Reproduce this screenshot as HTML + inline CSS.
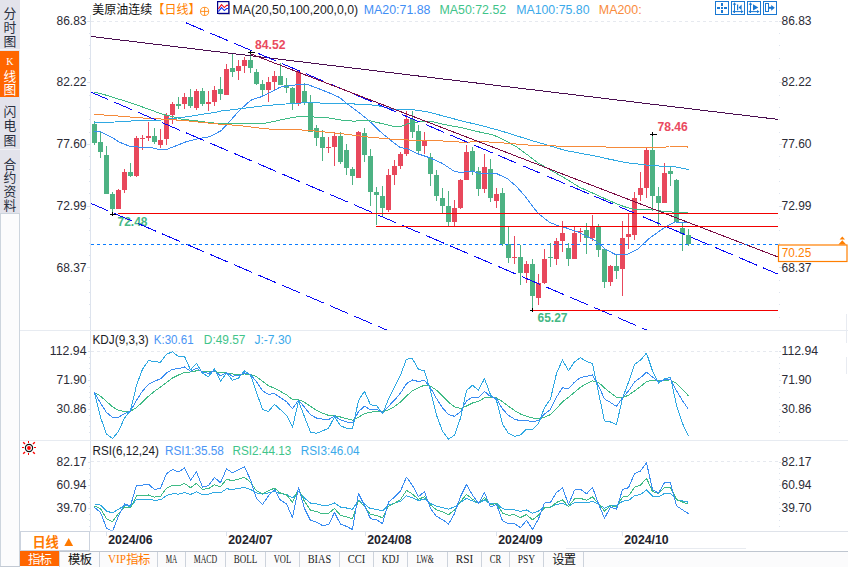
<!DOCTYPE html>
<html><head><meta charset="utf-8"><title>chart</title>
<style>html,body{margin:0;padding:0;background:#fff;overflow:hidden}body{width:848px;height:567px;font-family:"Liberation Sans",sans-serif}</style>
</head><body>
<svg width="848" height="567" viewBox="0 0 848 567" style="display:block"><rect x="0" y="0" width="848" height="567" fill="#ffffff" shape-rendering="crispEdges"/>
<rect x="0" y="0" width="20" height="213" fill="#e3e3eb" shape-rendering="crispEdges"/>
<rect x="0" y="51" width="19" height="46" fill="#ff6600" shape-rendering="crispEdges"/>
<line x1="0" y1="49.5" x2="20" y2="49.5" stroke="#f2f2f6" stroke-width="1" shape-rendering="crispEdges"/>
<line x1="0" y1="149.5" x2="20" y2="149.5" stroke="#f2f2f6" stroke-width="1" shape-rendering="crispEdges"/>
<line x1="19.5" y1="213" x2="19.5" y2="567" stroke="#cdd5de" stroke-width="1" shape-rendering="crispEdges"/>
<line x1="0.5" y1="213" x2="0.5" y2="567" stroke="#cdd5de" stroke-width="1" shape-rendering="crispEdges"/>
<line x1="0" y1="213.5" x2="20" y2="213.5" stroke="#cdd5de" stroke-width="1" shape-rendering="crispEdges"/>
<text x="3.4" y="17.5" font-family="'Liberation Sans','Noto Sans CJK SC',sans-serif" font-size="12.8" fill="#2a3040">分</text>
<text x="3.4" y="31.6" font-family="'Liberation Sans','Noto Sans CJK SC',sans-serif" font-size="12.8" fill="#2a3040">时</text>
<text x="3.4" y="45.7" font-family="'Liberation Sans','Noto Sans CJK SC',sans-serif" font-size="12.8" fill="#2a3040">图</text>
<text x="3.4" y="80.7" font-family="'Liberation Sans','Noto Sans CJK SC',sans-serif" font-size="12.8" fill="#ffffff">线</text>
<text x="3.4" y="94.2" font-family="'Liberation Sans','Noto Sans CJK SC',sans-serif" font-size="12.8" fill="#ffffff">图</text>
<text x="9.8" y="65" font-family="Liberation Serif" font-size="10" fill="#ffffff" text-anchor="middle" font-weight="normal">K</text>
<text x="3.4" y="116.1" font-family="'Liberation Sans','Noto Sans CJK SC',sans-serif" font-size="12.8" fill="#2a3040">闪</text>
<text x="3.4" y="130.4" font-family="'Liberation Sans','Noto Sans CJK SC',sans-serif" font-size="12.8" fill="#2a3040">电</text>
<text x="3.4" y="144.7" font-family="'Liberation Sans','Noto Sans CJK SC',sans-serif" font-size="12.8" fill="#2a3040">图</text>
<text x="3.4" y="168.5" font-family="'Liberation Sans','Noto Sans CJK SC',sans-serif" font-size="12.8" fill="#2a3040">合</text>
<text x="3.4" y="182.35" font-family="'Liberation Sans','Noto Sans CJK SC',sans-serif" font-size="12.8" fill="#2a3040">约</text>
<text x="3.4" y="196.2" font-family="'Liberation Sans','Noto Sans CJK SC',sans-serif" font-size="12.8" fill="#2a3040">资</text>
<text x="3.4" y="210.05" font-family="'Liberation Sans','Noto Sans CJK SC',sans-serif" font-size="12.8" fill="#2a3040">料</text>
<line x1="90.5" y1="15" x2="90.5" y2="531" stroke="#dde3ed" stroke-width="1" shape-rendering="crispEdges"/>
<line x1="20" y1="330.5" x2="848" y2="330.5" stroke="#e7ebf1" stroke-width="1" shape-rendering="crispEdges"/>
<line x1="20" y1="440.5" x2="848" y2="440.5" stroke="#e7ebf1" stroke-width="1" shape-rendering="crispEdges"/>
<line x1="20" y1="531.5" x2="848" y2="531.5" stroke="#dfe3ea" stroke-width="1" shape-rendering="crispEdges"/>
<line x1="566" y1="548.5" x2="746" y2="548.5" stroke="#e8ebf0" stroke-width="1" shape-rendering="crispEdges"/>
<line x1="846.5" y1="314" x2="846.5" y2="343" stroke="#e8ebf1" stroke-width="1" shape-rendering="crispEdges"/>
<line x1="846.5" y1="357" x2="846.5" y2="374" stroke="#e8ebf1" stroke-width="1" shape-rendering="crispEdges"/>
<line x1="91" y1="21.5" x2="778" y2="21.5" stroke="#e6e9ef" stroke-width="1" stroke-dasharray="3 3" shape-rendering="crispEdges"/>
<line x1="91" y1="351.5" x2="778" y2="351.5" stroke="#e6e9ef" stroke-width="1" stroke-dasharray="3 3" shape-rendering="crispEdges"/>
<line x1="91" y1="461.5" x2="778" y2="461.5" stroke="#e6e9ef" stroke-width="1" stroke-dasharray="3 3" shape-rendering="crispEdges"/>
<line x1="87" y1="21.5" x2="90" y2="21.5" stroke="#dde3ed" stroke-width="1" shape-rendering="crispEdges"/>
<line x1="779" y1="21.5" x2="782" y2="21.5" stroke="#dde3ed" stroke-width="1" shape-rendering="crispEdges"/>
<line x1="89" y1="33.5" x2="90" y2="33.5" stroke="#dde3ed" stroke-width="1" shape-rendering="crispEdges"/>
<line x1="779" y1="33.5" x2="780" y2="33.5" stroke="#dde3ed" stroke-width="1" shape-rendering="crispEdges"/>
<line x1="89" y1="45.5" x2="90" y2="45.5" stroke="#dde3ed" stroke-width="1" shape-rendering="crispEdges"/>
<line x1="779" y1="45.5" x2="780" y2="45.5" stroke="#dde3ed" stroke-width="1" shape-rendering="crispEdges"/>
<line x1="89" y1="58.5" x2="90" y2="58.5" stroke="#dde3ed" stroke-width="1" shape-rendering="crispEdges"/>
<line x1="779" y1="58.5" x2="780" y2="58.5" stroke="#dde3ed" stroke-width="1" shape-rendering="crispEdges"/>
<line x1="89" y1="70.5" x2="90" y2="70.5" stroke="#dde3ed" stroke-width="1" shape-rendering="crispEdges"/>
<line x1="779" y1="70.5" x2="780" y2="70.5" stroke="#dde3ed" stroke-width="1" shape-rendering="crispEdges"/>
<line x1="87" y1="82.5" x2="90" y2="82.5" stroke="#dde3ed" stroke-width="1" shape-rendering="crispEdges"/>
<line x1="779" y1="82.5" x2="782" y2="82.5" stroke="#dde3ed" stroke-width="1" shape-rendering="crispEdges"/>
<line x1="89" y1="95.5" x2="90" y2="95.5" stroke="#dde3ed" stroke-width="1" shape-rendering="crispEdges"/>
<line x1="779" y1="95.5" x2="780" y2="95.5" stroke="#dde3ed" stroke-width="1" shape-rendering="crispEdges"/>
<line x1="89" y1="107.5" x2="90" y2="107.5" stroke="#dde3ed" stroke-width="1" shape-rendering="crispEdges"/>
<line x1="779" y1="107.5" x2="780" y2="107.5" stroke="#dde3ed" stroke-width="1" shape-rendering="crispEdges"/>
<line x1="89" y1="119.5" x2="90" y2="119.5" stroke="#dde3ed" stroke-width="1" shape-rendering="crispEdges"/>
<line x1="779" y1="119.5" x2="780" y2="119.5" stroke="#dde3ed" stroke-width="1" shape-rendering="crispEdges"/>
<line x1="89" y1="132.5" x2="90" y2="132.5" stroke="#dde3ed" stroke-width="1" shape-rendering="crispEdges"/>
<line x1="779" y1="132.5" x2="780" y2="132.5" stroke="#dde3ed" stroke-width="1" shape-rendering="crispEdges"/>
<line x1="87" y1="144.5" x2="90" y2="144.5" stroke="#dde3ed" stroke-width="1" shape-rendering="crispEdges"/>
<line x1="779" y1="144.5" x2="782" y2="144.5" stroke="#dde3ed" stroke-width="1" shape-rendering="crispEdges"/>
<line x1="89" y1="156.5" x2="90" y2="156.5" stroke="#dde3ed" stroke-width="1" shape-rendering="crispEdges"/>
<line x1="779" y1="156.5" x2="780" y2="156.5" stroke="#dde3ed" stroke-width="1" shape-rendering="crispEdges"/>
<line x1="89" y1="169.5" x2="90" y2="169.5" stroke="#dde3ed" stroke-width="1" shape-rendering="crispEdges"/>
<line x1="779" y1="169.5" x2="780" y2="169.5" stroke="#dde3ed" stroke-width="1" shape-rendering="crispEdges"/>
<line x1="89" y1="181.5" x2="90" y2="181.5" stroke="#dde3ed" stroke-width="1" shape-rendering="crispEdges"/>
<line x1="779" y1="181.5" x2="780" y2="181.5" stroke="#dde3ed" stroke-width="1" shape-rendering="crispEdges"/>
<line x1="89" y1="193.5" x2="90" y2="193.5" stroke="#dde3ed" stroke-width="1" shape-rendering="crispEdges"/>
<line x1="779" y1="193.5" x2="780" y2="193.5" stroke="#dde3ed" stroke-width="1" shape-rendering="crispEdges"/>
<line x1="87" y1="206.5" x2="90" y2="206.5" stroke="#dde3ed" stroke-width="1" shape-rendering="crispEdges"/>
<line x1="779" y1="206.5" x2="782" y2="206.5" stroke="#dde3ed" stroke-width="1" shape-rendering="crispEdges"/>
<line x1="89" y1="218.5" x2="90" y2="218.5" stroke="#dde3ed" stroke-width="1" shape-rendering="crispEdges"/>
<line x1="779" y1="218.5" x2="780" y2="218.5" stroke="#dde3ed" stroke-width="1" shape-rendering="crispEdges"/>
<line x1="89" y1="230.5" x2="90" y2="230.5" stroke="#dde3ed" stroke-width="1" shape-rendering="crispEdges"/>
<line x1="779" y1="230.5" x2="780" y2="230.5" stroke="#dde3ed" stroke-width="1" shape-rendering="crispEdges"/>
<line x1="89" y1="243.5" x2="90" y2="243.5" stroke="#dde3ed" stroke-width="1" shape-rendering="crispEdges"/>
<line x1="779" y1="243.5" x2="780" y2="243.5" stroke="#dde3ed" stroke-width="1" shape-rendering="crispEdges"/>
<line x1="89" y1="255.5" x2="90" y2="255.5" stroke="#dde3ed" stroke-width="1" shape-rendering="crispEdges"/>
<line x1="779" y1="255.5" x2="780" y2="255.5" stroke="#dde3ed" stroke-width="1" shape-rendering="crispEdges"/>
<line x1="87" y1="267.5" x2="90" y2="267.5" stroke="#dde3ed" stroke-width="1" shape-rendering="crispEdges"/>
<line x1="779" y1="267.5" x2="782" y2="267.5" stroke="#dde3ed" stroke-width="1" shape-rendering="crispEdges"/>
<line x1="89" y1="280.5" x2="90" y2="280.5" stroke="#dde3ed" stroke-width="1" shape-rendering="crispEdges"/>
<line x1="779" y1="280.5" x2="780" y2="280.5" stroke="#dde3ed" stroke-width="1" shape-rendering="crispEdges"/>
<line x1="89" y1="292.5" x2="90" y2="292.5" stroke="#dde3ed" stroke-width="1" shape-rendering="crispEdges"/>
<line x1="779" y1="292.5" x2="780" y2="292.5" stroke="#dde3ed" stroke-width="1" shape-rendering="crispEdges"/>
<line x1="89" y1="304.5" x2="90" y2="304.5" stroke="#dde3ed" stroke-width="1" shape-rendering="crispEdges"/>
<line x1="779" y1="304.5" x2="780" y2="304.5" stroke="#dde3ed" stroke-width="1" shape-rendering="crispEdges"/>
<line x1="89" y1="317.5" x2="90" y2="317.5" stroke="#dde3ed" stroke-width="1" shape-rendering="crispEdges"/>
<line x1="779" y1="317.5" x2="780" y2="317.5" stroke="#dde3ed" stroke-width="1" shape-rendering="crispEdges"/>
<text x="86.5" y="24.9" font-family="Liberation Sans" font-size="12" fill="#2b2b36" text-anchor="end" font-weight="normal" textLength="30" lengthAdjust="spacingAndGlyphs">86.83</text>
<text x="781.5" y="24.9" font-family="Liberation Sans" font-size="12" fill="#2b2b36" text-anchor="start" font-weight="normal" textLength="30" lengthAdjust="spacingAndGlyphs">86.83</text>
<text x="86.5" y="85.8" font-family="Liberation Sans" font-size="12" fill="#2b2b36" text-anchor="end" font-weight="normal" textLength="30" lengthAdjust="spacingAndGlyphs">82.22</text>
<text x="781.5" y="85.8" font-family="Liberation Sans" font-size="12" fill="#2b2b36" text-anchor="start" font-weight="normal" textLength="30" lengthAdjust="spacingAndGlyphs">82.22</text>
<text x="86.5" y="148.0" font-family="Liberation Sans" font-size="12" fill="#2b2b36" text-anchor="end" font-weight="normal" textLength="30" lengthAdjust="spacingAndGlyphs">77.60</text>
<text x="781.5" y="148.0" font-family="Liberation Sans" font-size="12" fill="#2b2b36" text-anchor="start" font-weight="normal" textLength="30" lengthAdjust="spacingAndGlyphs">77.60</text>
<text x="86.5" y="209.8" font-family="Liberation Sans" font-size="12" fill="#2b2b36" text-anchor="end" font-weight="normal" textLength="30" lengthAdjust="spacingAndGlyphs">72.99</text>
<text x="781.5" y="209.8" font-family="Liberation Sans" font-size="12" fill="#2b2b36" text-anchor="start" font-weight="normal" textLength="30" lengthAdjust="spacingAndGlyphs">72.99</text>
<text x="86.5" y="272.0" font-family="Liberation Sans" font-size="12" fill="#2b2b36" text-anchor="end" font-weight="normal" textLength="30" lengthAdjust="spacingAndGlyphs">68.37</text>
<text x="781.5" y="272.0" font-family="Liberation Sans" font-size="12" fill="#2b2b36" text-anchor="start" font-weight="normal" textLength="30" lengthAdjust="spacingAndGlyphs">68.37</text>
<text x="86.5" y="355.2" font-family="Liberation Sans" font-size="12" fill="#2b2b36" text-anchor="end" font-weight="normal" textLength="36.7" lengthAdjust="spacingAndGlyphs">112.94</text>
<text x="781.5" y="355.2" font-family="Liberation Sans" font-size="12" fill="#2b2b36" text-anchor="start" font-weight="normal" textLength="36.7" lengthAdjust="spacingAndGlyphs">112.94</text>
<line x1="779" y1="351.5" x2="781" y2="351.5" stroke="#dde3ed" stroke-width="1" shape-rendering="crispEdges"/>
<line x1="88" y1="351.5" x2="90" y2="351.5" stroke="#dde3ed" stroke-width="1" shape-rendering="crispEdges"/>
<text x="86.5" y="384.09999999999997" font-family="Liberation Sans" font-size="12" fill="#2b2b36" text-anchor="end" font-weight="normal" textLength="30" lengthAdjust="spacingAndGlyphs">71.90</text>
<text x="781.5" y="384.09999999999997" font-family="Liberation Sans" font-size="12" fill="#2b2b36" text-anchor="start" font-weight="normal" textLength="30" lengthAdjust="spacingAndGlyphs">71.90</text>
<line x1="779" y1="380.5" x2="781" y2="380.5" stroke="#dde3ed" stroke-width="1" shape-rendering="crispEdges"/>
<line x1="88" y1="380.5" x2="90" y2="380.5" stroke="#dde3ed" stroke-width="1" shape-rendering="crispEdges"/>
<text x="86.5" y="413.2" font-family="Liberation Sans" font-size="12" fill="#2b2b36" text-anchor="end" font-weight="normal" textLength="30" lengthAdjust="spacingAndGlyphs">30.86</text>
<text x="781.5" y="413.2" font-family="Liberation Sans" font-size="12" fill="#2b2b36" text-anchor="start" font-weight="normal" textLength="30" lengthAdjust="spacingAndGlyphs">30.86</text>
<line x1="779" y1="409.5" x2="781" y2="409.5" stroke="#dde3ed" stroke-width="1" shape-rendering="crispEdges"/>
<line x1="88" y1="409.5" x2="90" y2="409.5" stroke="#dde3ed" stroke-width="1" shape-rendering="crispEdges"/>
<text x="86.5" y="465.95" font-family="Liberation Sans" font-size="12" fill="#2b2b36" text-anchor="end" font-weight="normal" textLength="30" lengthAdjust="spacingAndGlyphs">82.17</text>
<text x="781.5" y="465.95" font-family="Liberation Sans" font-size="12" fill="#2b2b36" text-anchor="start" font-weight="normal" textLength="30" lengthAdjust="spacingAndGlyphs">82.17</text>
<line x1="779" y1="462.5" x2="781" y2="462.5" stroke="#dde3ed" stroke-width="1" shape-rendering="crispEdges"/>
<line x1="88" y1="462.5" x2="90" y2="462.5" stroke="#dde3ed" stroke-width="1" shape-rendering="crispEdges"/>
<text x="86.5" y="488.95" font-family="Liberation Sans" font-size="12" fill="#2b2b36" text-anchor="end" font-weight="normal" textLength="30" lengthAdjust="spacingAndGlyphs">60.94</text>
<text x="781.5" y="488.95" font-family="Liberation Sans" font-size="12" fill="#2b2b36" text-anchor="start" font-weight="normal" textLength="30" lengthAdjust="spacingAndGlyphs">60.94</text>
<line x1="779" y1="485.5" x2="781" y2="485.5" stroke="#dde3ed" stroke-width="1" shape-rendering="crispEdges"/>
<line x1="88" y1="485.5" x2="90" y2="485.5" stroke="#dde3ed" stroke-width="1" shape-rendering="crispEdges"/>
<text x="86.5" y="512.2" font-family="Liberation Sans" font-size="12" fill="#2b2b36" text-anchor="end" font-weight="normal" textLength="30" lengthAdjust="spacingAndGlyphs">39.70</text>
<text x="781.5" y="512.2" font-family="Liberation Sans" font-size="12" fill="#2b2b36" text-anchor="start" font-weight="normal" textLength="30" lengthAdjust="spacingAndGlyphs">39.70</text>
<line x1="779" y1="508.5" x2="781" y2="508.5" stroke="#dde3ed" stroke-width="1" shape-rendering="crispEdges"/>
<line x1="88" y1="508.5" x2="90" y2="508.5" stroke="#dde3ed" stroke-width="1" shape-rendering="crispEdges"/>
<line x1="779" y1="351.5" x2="780" y2="351.5" stroke="#dde3ed" stroke-width="1" shape-rendering="crispEdges"/>
<line x1="89" y1="351.5" x2="90" y2="351.5" stroke="#dde3ed" stroke-width="1" shape-rendering="crispEdges"/>
<line x1="779" y1="357.5" x2="780" y2="357.5" stroke="#dde3ed" stroke-width="1" shape-rendering="crispEdges"/>
<line x1="89" y1="357.5" x2="90" y2="357.5" stroke="#dde3ed" stroke-width="1" shape-rendering="crispEdges"/>
<line x1="779" y1="363.5" x2="780" y2="363.5" stroke="#dde3ed" stroke-width="1" shape-rendering="crispEdges"/>
<line x1="89" y1="363.5" x2="90" y2="363.5" stroke="#dde3ed" stroke-width="1" shape-rendering="crispEdges"/>
<line x1="779" y1="368.5" x2="780" y2="368.5" stroke="#dde3ed" stroke-width="1" shape-rendering="crispEdges"/>
<line x1="89" y1="368.5" x2="90" y2="368.5" stroke="#dde3ed" stroke-width="1" shape-rendering="crispEdges"/>
<line x1="779" y1="374.5" x2="780" y2="374.5" stroke="#dde3ed" stroke-width="1" shape-rendering="crispEdges"/>
<line x1="89" y1="374.5" x2="90" y2="374.5" stroke="#dde3ed" stroke-width="1" shape-rendering="crispEdges"/>
<line x1="779" y1="380.5" x2="780" y2="380.5" stroke="#dde3ed" stroke-width="1" shape-rendering="crispEdges"/>
<line x1="89" y1="380.5" x2="90" y2="380.5" stroke="#dde3ed" stroke-width="1" shape-rendering="crispEdges"/>
<line x1="779" y1="386.5" x2="780" y2="386.5" stroke="#dde3ed" stroke-width="1" shape-rendering="crispEdges"/>
<line x1="89" y1="386.5" x2="90" y2="386.5" stroke="#dde3ed" stroke-width="1" shape-rendering="crispEdges"/>
<line x1="779" y1="392.5" x2="780" y2="392.5" stroke="#dde3ed" stroke-width="1" shape-rendering="crispEdges"/>
<line x1="89" y1="392.5" x2="90" y2="392.5" stroke="#dde3ed" stroke-width="1" shape-rendering="crispEdges"/>
<line x1="779" y1="397.5" x2="780" y2="397.5" stroke="#dde3ed" stroke-width="1" shape-rendering="crispEdges"/>
<line x1="89" y1="397.5" x2="90" y2="397.5" stroke="#dde3ed" stroke-width="1" shape-rendering="crispEdges"/>
<line x1="779" y1="403.5" x2="780" y2="403.5" stroke="#dde3ed" stroke-width="1" shape-rendering="crispEdges"/>
<line x1="89" y1="403.5" x2="90" y2="403.5" stroke="#dde3ed" stroke-width="1" shape-rendering="crispEdges"/>
<line x1="779" y1="409.5" x2="780" y2="409.5" stroke="#dde3ed" stroke-width="1" shape-rendering="crispEdges"/>
<line x1="89" y1="409.5" x2="90" y2="409.5" stroke="#dde3ed" stroke-width="1" shape-rendering="crispEdges"/>
<line x1="779" y1="415.5" x2="780" y2="415.5" stroke="#dde3ed" stroke-width="1" shape-rendering="crispEdges"/>
<line x1="89" y1="415.5" x2="90" y2="415.5" stroke="#dde3ed" stroke-width="1" shape-rendering="crispEdges"/>
<line x1="779" y1="421.5" x2="780" y2="421.5" stroke="#dde3ed" stroke-width="1" shape-rendering="crispEdges"/>
<line x1="89" y1="421.5" x2="90" y2="421.5" stroke="#dde3ed" stroke-width="1" shape-rendering="crispEdges"/>
<line x1="779" y1="426.5" x2="780" y2="426.5" stroke="#dde3ed" stroke-width="1" shape-rendering="crispEdges"/>
<line x1="89" y1="426.5" x2="90" y2="426.5" stroke="#dde3ed" stroke-width="1" shape-rendering="crispEdges"/>
<line x1="779" y1="432.5" x2="780" y2="432.5" stroke="#dde3ed" stroke-width="1" shape-rendering="crispEdges"/>
<line x1="89" y1="432.5" x2="90" y2="432.5" stroke="#dde3ed" stroke-width="1" shape-rendering="crispEdges"/>
<line x1="779" y1="462.5" x2="780" y2="462.5" stroke="#dde3ed" stroke-width="1" shape-rendering="crispEdges"/>
<line x1="89" y1="462.5" x2="90" y2="462.5" stroke="#dde3ed" stroke-width="1" shape-rendering="crispEdges"/>
<line x1="779" y1="468.5" x2="780" y2="468.5" stroke="#dde3ed" stroke-width="1" shape-rendering="crispEdges"/>
<line x1="89" y1="468.5" x2="90" y2="468.5" stroke="#dde3ed" stroke-width="1" shape-rendering="crispEdges"/>
<line x1="779" y1="473.5" x2="780" y2="473.5" stroke="#dde3ed" stroke-width="1" shape-rendering="crispEdges"/>
<line x1="89" y1="473.5" x2="90" y2="473.5" stroke="#dde3ed" stroke-width="1" shape-rendering="crispEdges"/>
<line x1="779" y1="479.5" x2="780" y2="479.5" stroke="#dde3ed" stroke-width="1" shape-rendering="crispEdges"/>
<line x1="89" y1="479.5" x2="90" y2="479.5" stroke="#dde3ed" stroke-width="1" shape-rendering="crispEdges"/>
<line x1="779" y1="485.5" x2="780" y2="485.5" stroke="#dde3ed" stroke-width="1" shape-rendering="crispEdges"/>
<line x1="89" y1="485.5" x2="90" y2="485.5" stroke="#dde3ed" stroke-width="1" shape-rendering="crispEdges"/>
<line x1="779" y1="491.5" x2="780" y2="491.5" stroke="#dde3ed" stroke-width="1" shape-rendering="crispEdges"/>
<line x1="89" y1="491.5" x2="90" y2="491.5" stroke="#dde3ed" stroke-width="1" shape-rendering="crispEdges"/>
<line x1="779" y1="497.5" x2="780" y2="497.5" stroke="#dde3ed" stroke-width="1" shape-rendering="crispEdges"/>
<line x1="89" y1="497.5" x2="90" y2="497.5" stroke="#dde3ed" stroke-width="1" shape-rendering="crispEdges"/>
<line x1="779" y1="502.5" x2="780" y2="502.5" stroke="#dde3ed" stroke-width="1" shape-rendering="crispEdges"/>
<line x1="89" y1="502.5" x2="90" y2="502.5" stroke="#dde3ed" stroke-width="1" shape-rendering="crispEdges"/>
<line x1="779" y1="508.5" x2="780" y2="508.5" stroke="#dde3ed" stroke-width="1" shape-rendering="crispEdges"/>
<line x1="89" y1="508.5" x2="90" y2="508.5" stroke="#dde3ed" stroke-width="1" shape-rendering="crispEdges"/>
<line x1="779" y1="514.5" x2="780" y2="514.5" stroke="#dde3ed" stroke-width="1" shape-rendering="crispEdges"/>
<line x1="89" y1="514.5" x2="90" y2="514.5" stroke="#dde3ed" stroke-width="1" shape-rendering="crispEdges"/>
<line x1="779" y1="520.5" x2="780" y2="520.5" stroke="#dde3ed" stroke-width="1" shape-rendering="crispEdges"/>
<line x1="89" y1="520.5" x2="90" y2="520.5" stroke="#dde3ed" stroke-width="1" shape-rendering="crispEdges"/>
<line x1="779" y1="526.5" x2="780" y2="526.5" stroke="#dde3ed" stroke-width="1" shape-rendering="crispEdges"/>
<line x1="89" y1="526.5" x2="90" y2="526.5" stroke="#dde3ed" stroke-width="1" shape-rendering="crispEdges"/>
<text x="92.2" y="14.2" font-family="'Liberation Sans','Noto Sans CJK SC',sans-serif" font-size="12" fill="#111111" textLength="60" lengthAdjust="spacing">美原油连续</text>
<text x="152.6" y="14.2" font-family="'Liberation Sans','Noto Sans CJK SC',sans-serif" font-size="12" fill="#ff7f00" textLength="48" lengthAdjust="spacing">【日线】</text>
<g stroke="#ff7f00" fill="none" stroke-width="0.85"><circle cx="204.6" cy="11.4" r="4.1"/><line x1="200.5" y1="11.4" x2="208.7" y2="11.4"/><line x1="204.6" y1="7.3" x2="204.6" y2="15.5"/></g>
<g><rect x="218.4" y="2.6" width="11.6" height="12" fill="#a8a8b0"/><rect x="217.6" y="1.6" width="11.2" height="11.8" fill="#fff" stroke="#00008b" stroke-width="1.2"/><polyline points="218.4,8.9 221.5,4.6 224.3,7.6 226.7,5.4 228.2,5.4" fill="none" stroke="#f01020" stroke-width="1.1"/><polyline points="218.4,11.7 221.5,7.6 224.3,10.6 226.7,8.5 228.2,8.5" fill="none" stroke="#1030f0" stroke-width="1.1"/></g>
<text x="232.5" y="13.5" font-family="Liberation Sans" font-size="12" fill="#1a1a24" text-anchor="start" font-weight="normal" textLength="125.7" lengthAdjust="spacingAndGlyphs">MA(20,50,100,200,0,0)</text>
<text x="363.8" y="13.5" font-family="Liberation Sans" font-size="12" fill="#3f8ef5" text-anchor="start" font-weight="normal" textLength="66.7" lengthAdjust="spacingAndGlyphs">MA20:71.88</text>
<text x="439.5" y="13.5" font-family="Liberation Sans" font-size="12" fill="#3fc48a" text-anchor="start" font-weight="normal" textLength="66.7" lengthAdjust="spacingAndGlyphs">MA50:72.52</text>
<text x="516.2" y="13.5" font-family="Liberation Sans" font-size="12" fill="#3aa9ea" text-anchor="start" font-weight="normal" textLength="73.3" lengthAdjust="spacingAndGlyphs">MA100:75.80</text>
<text x="598.8" y="13.5" font-family="Liberation Sans" font-size="12" fill="#f98b3c" text-anchor="start" font-weight="normal" textLength="42.8" lengthAdjust="spacingAndGlyphs">MA200:</text>
<rect x="715.5" y="1.5" width="13" height="13" fill="#fff" stroke="#1a78d2" stroke-width="1"/>
<rect x="731.5" y="1.5" width="13" height="13" fill="#fff" stroke="#1a78d2" stroke-width="1"/>
<rect x="747.5" y="1.5" width="13" height="13" fill="#fff" stroke="#1a78d2" stroke-width="1"/>
<rect x="763.5" y="1.5" width="13" height="13" fill="#fff" stroke="#1a78d2" stroke-width="1"/>
<g fill="#1a78d2" shape-rendering="crispEdges"><rect x="721" y="7" width="2" height="2"/><rect x="721" y="3" width="2" height="3"/><rect x="721" y="10" width="2" height="3"/><rect x="717" y="7" width="3" height="2"/><rect x="724" y="7" width="3" height="2"/></g>
<g stroke="#1a78d2" fill="#1a78d2" stroke-width="1"><line x1="734.5" y1="3.2" x2="734.5" y2="13"/><path d="M734.5 2.2 L736.3 4.8 L732.7 4.8Z" stroke="none"/><line x1="733.2" y1="11.6" x2="742.6" y2="11.6"/><path d="M743.6 11.6 L741 9.9 L741 13.3Z" stroke="none"/><path d="M732.4 11.6 L734 10.4 L734 12.8Z" stroke="none"/><line x1="737.6" y1="4.6" x2="737.6" y2="10.2" stroke-width="1.2"/><path d="M738.6 7.4 L741.6 4.6 L741.6 10.2Z" stroke="none"/></g>
<g stroke="#1a78d2" fill="#1a78d2" stroke-width="1"><line x1="750.5" y1="3.2" x2="750.5" y2="13"/><path d="M750.5 2.2 L752.3 4.8 L748.7 4.8Z" stroke="none"/><line x1="749.2" y1="11.6" x2="758.6" y2="11.6"/><path d="M759.6 11.6 L757 9.9 L757 13.3Z" stroke="none"/><path d="M748.4 11.6 L750 10.4 L750 12.8Z" stroke="none"/><path d="M753 4.2 L758.3 7.4 L753 10.6Z" stroke="none"/></g>
<g stroke="#1a78d2" fill="none" stroke-width="1"><rect x="765.5" y="3.5" width="3" height="8" shape-rendering="crispEdges"/><line x1="768" y1="7.8" x2="772" y2="7.8" stroke-width="2"/><path d="M771.2 4.9 L774.8 7.8 L771.2 10.7Z" fill="#1a78d2" stroke="none"/></g>
<clipPath id="cm"><rect x="91" y="15" width="687" height="315"/></clipPath>
<g clip-path="url(#cm)">
<g shape-rendering="crispEdges">
<rect x="94" y="121" width="1" height="24" fill="#4db283"/>
<rect x="92" y="124" width="5" height="19" fill="#4db283"/>
<rect x="100" y="131" width="1" height="27" fill="#4db283"/>
<rect x="98" y="142" width="5" height="10" fill="#4db283"/>
<rect x="106" y="146" width="1" height="48" fill="#4db283"/>
<rect x="104" y="155" width="5" height="39" fill="#4db283"/>
<rect x="112" y="192" width="1" height="22" fill="#4db283"/>
<rect x="110" y="194" width="5" height="15" fill="#4db283"/>
<rect x="118" y="189" width="1" height="20" fill="#e8485c"/>
<rect x="116" y="190" width="5" height="19" fill="#e8485c"/>
<rect x="124" y="169" width="1" height="24" fill="#e8485c"/>
<rect x="122" y="172" width="5" height="18" fill="#e8485c"/>
<rect x="130" y="163" width="1" height="14" fill="#4db283"/>
<rect x="128" y="172" width="5" height="4" fill="#4db283"/>
<rect x="136" y="136" width="1" height="41" fill="#e8485c"/>
<rect x="134" y="138" width="5" height="38" fill="#e8485c"/>
<rect x="142" y="135" width="1" height="15" fill="#e8485c"/>
<rect x="140" y="138" width="5" height="1" fill="#e8485c"/>
<rect x="148" y="122" width="1" height="19" fill="#e8485c"/>
<rect x="146" y="136" width="5" height="2" fill="#e8485c"/>
<rect x="154" y="128" width="1" height="16" fill="#4db283"/>
<rect x="152" y="136" width="5" height="6" fill="#4db283"/>
<rect x="160" y="129" width="1" height="19" fill="#e8485c"/>
<rect x="158" y="140" width="5" height="5" fill="#e8485c"/>
<rect x="166" y="113" width="1" height="32" fill="#e8485c"/>
<rect x="164" y="115" width="5" height="24" fill="#e8485c"/>
<rect x="172" y="102" width="1" height="22" fill="#e8485c"/>
<rect x="170" y="104" width="5" height="11" fill="#e8485c"/>
<rect x="178" y="97" width="1" height="12" fill="#4db283"/>
<rect x="176" y="104" width="5" height="2" fill="#4db283"/>
<rect x="184" y="93" width="1" height="16" fill="#e8485c"/>
<rect x="182" y="97" width="5" height="7" fill="#e8485c"/>
<rect x="190" y="89" width="1" height="19" fill="#4db283"/>
<rect x="188" y="97" width="5" height="9" fill="#4db283"/>
<rect x="196" y="89" width="1" height="21" fill="#e8485c"/>
<rect x="194" y="91" width="5" height="17" fill="#e8485c"/>
<rect x="202" y="88" width="1" height="18" fill="#4db283"/>
<rect x="200" y="91" width="5" height="13" fill="#4db283"/>
<rect x="208" y="91" width="1" height="20" fill="#e8485c"/>
<rect x="206" y="102" width="5" height="2" fill="#e8485c"/>
<rect x="214" y="86" width="1" height="20" fill="#e8485c"/>
<rect x="212" y="90" width="5" height="12" fill="#e8485c"/>
<rect x="220" y="77" width="1" height="23" fill="#4db283"/>
<rect x="218" y="89" width="5" height="5" fill="#4db283"/>
<rect x="226" y="64" width="1" height="31" fill="#e8485c"/>
<rect x="224" y="69" width="5" height="26" fill="#e8485c"/>
<rect x="232" y="54" width="1" height="23" fill="#4db283"/>
<rect x="230" y="68" width="5" height="4" fill="#4db283"/>
<rect x="238" y="60" width="1" height="20" fill="#e8485c"/>
<rect x="236" y="66" width="5" height="5" fill="#e8485c"/>
<rect x="244" y="57" width="1" height="16" fill="#e8485c"/>
<rect x="242" y="60" width="5" height="6" fill="#e8485c"/>
<rect x="250" y="54" width="1" height="19" fill="#4db283"/>
<rect x="248" y="60" width="5" height="8" fill="#4db283"/>
<rect x="256" y="69" width="1" height="16" fill="#4db283"/>
<rect x="254" y="72" width="5" height="12" fill="#4db283"/>
<rect x="262" y="80" width="1" height="16" fill="#4db283"/>
<rect x="260" y="84" width="5" height="6" fill="#4db283"/>
<rect x="268" y="77" width="1" height="25" fill="#e8485c"/>
<rect x="266" y="82" width="5" height="8" fill="#e8485c"/>
<rect x="274" y="71" width="1" height="19" fill="#e8485c"/>
<rect x="272" y="76" width="5" height="6" fill="#e8485c"/>
<rect x="280" y="63" width="1" height="22" fill="#4db283"/>
<rect x="278" y="76" width="5" height="9" fill="#4db283"/>
<rect x="286" y="78" width="1" height="15" fill="#4db283"/>
<rect x="284" y="85" width="5" height="3" fill="#4db283"/>
<rect x="292" y="87" width="1" height="23" fill="#4db283"/>
<rect x="290" y="88" width="5" height="16" fill="#4db283"/>
<rect x="298" y="71" width="1" height="35" fill="#e8485c"/>
<rect x="296" y="72" width="5" height="31" fill="#e8485c"/>
<rect x="304" y="83" width="1" height="22" fill="#4db283"/>
<rect x="302" y="91" width="5" height="12" fill="#4db283"/>
<rect x="310" y="95" width="1" height="37" fill="#4db283"/>
<rect x="308" y="102" width="5" height="30" fill="#4db283"/>
<rect x="316" y="125" width="1" height="21" fill="#4db283"/>
<rect x="314" y="128" width="5" height="10" fill="#4db283"/>
<rect x="322" y="130" width="1" height="31" fill="#4db283"/>
<rect x="320" y="137" width="5" height="11" fill="#4db283"/>
<rect x="328" y="137" width="1" height="16" fill="#e8485c"/>
<rect x="326" y="147" width="5" height="1" fill="#e8485c"/>
<rect x="334" y="132" width="1" height="34" fill="#e8485c"/>
<rect x="332" y="136" width="5" height="11" fill="#e8485c"/>
<rect x="340" y="132" width="1" height="32" fill="#4db283"/>
<rect x="338" y="136" width="5" height="26" fill="#4db283"/>
<rect x="346" y="144" width="1" height="31" fill="#4db283"/>
<rect x="344" y="150" width="5" height="18" fill="#4db283"/>
<rect x="352" y="167" width="1" height="18" fill="#4db283"/>
<rect x="350" y="169" width="5" height="7" fill="#4db283"/>
<rect x="358" y="131" width="1" height="47" fill="#e8485c"/>
<rect x="356" y="132" width="5" height="46" fill="#e8485c"/>
<rect x="364" y="128" width="1" height="34" fill="#4db283"/>
<rect x="362" y="133" width="5" height="22" fill="#4db283"/>
<rect x="370" y="149" width="1" height="57" fill="#4db283"/>
<rect x="368" y="156" width="5" height="36" fill="#4db283"/>
<rect x="376" y="187" width="1" height="38" fill="#4db283"/>
<rect x="374" y="192" width="5" height="3" fill="#4db283"/>
<rect x="382" y="186" width="1" height="30" fill="#4db283"/>
<rect x="380" y="196" width="5" height="12" fill="#4db283"/>
<rect x="388" y="169" width="1" height="43" fill="#e8485c"/>
<rect x="386" y="175" width="5" height="35" fill="#e8485c"/>
<rect x="394" y="160" width="1" height="25" fill="#e8485c"/>
<rect x="392" y="166" width="5" height="9" fill="#e8485c"/>
<rect x="400" y="152" width="1" height="17" fill="#e8485c"/>
<rect x="398" y="154" width="5" height="12" fill="#e8485c"/>
<rect x="406" y="111" width="1" height="45" fill="#e8485c"/>
<rect x="404" y="119" width="5" height="35" fill="#e8485c"/>
<rect x="412" y="111" width="1" height="27" fill="#4db283"/>
<rect x="410" y="119" width="5" height="13" fill="#4db283"/>
<rect x="418" y="125" width="1" height="29" fill="#4db283"/>
<rect x="416" y="131" width="5" height="20" fill="#4db283"/>
<rect x="424" y="132" width="1" height="22" fill="#e8485c"/>
<rect x="422" y="141" width="5" height="5" fill="#e8485c"/>
<rect x="430" y="153" width="1" height="33" fill="#4db283"/>
<rect x="428" y="157" width="5" height="17" fill="#4db283"/>
<rect x="436" y="170" width="1" height="31" fill="#4db283"/>
<rect x="434" y="175" width="5" height="21" fill="#4db283"/>
<rect x="442" y="188" width="1" height="25" fill="#4db283"/>
<rect x="440" y="198" width="5" height="8" fill="#4db283"/>
<rect x="448" y="191" width="1" height="35" fill="#4db283"/>
<rect x="446" y="206" width="5" height="16" fill="#4db283"/>
<rect x="454" y="200" width="1" height="26" fill="#e8485c"/>
<rect x="452" y="208" width="5" height="14" fill="#e8485c"/>
<rect x="460" y="179" width="1" height="30" fill="#e8485c"/>
<rect x="458" y="180" width="5" height="28" fill="#e8485c"/>
<rect x="466" y="145" width="1" height="35" fill="#e8485c"/>
<rect x="464" y="152" width="5" height="28" fill="#e8485c"/>
<rect x="472" y="147" width="1" height="28" fill="#4db283"/>
<rect x="470" y="151" width="5" height="20" fill="#4db283"/>
<rect x="478" y="167" width="1" height="29" fill="#4db283"/>
<rect x="476" y="171" width="5" height="18" fill="#4db283"/>
<rect x="484" y="154" width="1" height="39" fill="#e8485c"/>
<rect x="482" y="167" width="5" height="22" fill="#e8485c"/>
<rect x="490" y="159" width="1" height="43" fill="#4db283"/>
<rect x="488" y="169" width="5" height="29" fill="#4db283"/>
<rect x="496" y="188" width="1" height="20" fill="#e8485c"/>
<rect x="494" y="194" width="5" height="7" fill="#e8485c"/>
<rect x="502" y="188" width="1" height="58" fill="#4db283"/>
<rect x="500" y="193" width="5" height="51" fill="#4db283"/>
<rect x="508" y="227" width="1" height="36" fill="#4db283"/>
<rect x="506" y="244" width="5" height="14" fill="#4db283"/>
<rect x="514" y="236" width="1" height="28" fill="#e8485c"/>
<rect x="512" y="257" width="5" height="1" fill="#e8485c"/>
<rect x="520" y="245" width="1" height="40" fill="#4db283"/>
<rect x="518" y="257" width="5" height="16" fill="#4db283"/>
<rect x="526" y="261" width="1" height="22" fill="#e8485c"/>
<rect x="524" y="264" width="5" height="9" fill="#e8485c"/>
<rect x="532" y="259" width="1" height="51" fill="#4db283"/>
<rect x="530" y="264" width="5" height="32" fill="#4db283"/>
<rect x="538" y="274" width="1" height="31" fill="#e8485c"/>
<rect x="536" y="283" width="5" height="15" fill="#e8485c"/>
<rect x="544" y="249" width="1" height="35" fill="#e8485c"/>
<rect x="542" y="259" width="5" height="24" fill="#e8485c"/>
<rect x="550" y="243" width="1" height="24" fill="#4db283"/>
<rect x="548" y="257" width="5" height="1" fill="#4db283"/>
<rect x="556" y="238" width="1" height="27" fill="#e8485c"/>
<rect x="554" y="241" width="5" height="18" fill="#e8485c"/>
<rect x="562" y="221" width="1" height="31" fill="#e8485c"/>
<rect x="560" y="233" width="5" height="8" fill="#e8485c"/>
<rect x="568" y="243" width="1" height="23" fill="#4db283"/>
<rect x="566" y="248" width="5" height="11" fill="#4db283"/>
<rect x="574" y="227" width="1" height="32" fill="#e8485c"/>
<rect x="572" y="233" width="5" height="26" fill="#e8485c"/>
<rect x="580" y="228" width="1" height="14" fill="#e8485c"/>
<rect x="578" y="231" width="5" height="1" fill="#e8485c"/>
<rect x="586" y="223" width="1" height="31" fill="#4db283"/>
<rect x="584" y="230" width="5" height="8" fill="#4db283"/>
<rect x="592" y="215" width="1" height="26" fill="#e8485c"/>
<rect x="590" y="227" width="5" height="11" fill="#e8485c"/>
<rect x="598" y="224" width="1" height="33" fill="#4db283"/>
<rect x="596" y="227" width="5" height="23" fill="#4db283"/>
<rect x="604" y="248" width="1" height="40" fill="#4db283"/>
<rect x="602" y="249" width="5" height="33" fill="#4db283"/>
<rect x="610" y="265" width="1" height="21" fill="#e8485c"/>
<rect x="608" y="266" width="5" height="16" fill="#e8485c"/>
<rect x="616" y="255" width="1" height="24" fill="#4db283"/>
<rect x="614" y="266" width="5" height="5" fill="#4db283"/>
<rect x="622" y="221" width="1" height="75" fill="#e8485c"/>
<rect x="620" y="238" width="5" height="31" fill="#e8485c"/>
<rect x="628" y="214" width="1" height="35" fill="#e8485c"/>
<rect x="626" y="234" width="5" height="3" fill="#e8485c"/>
<rect x="634" y="192" width="1" height="48" fill="#e8485c"/>
<rect x="632" y="198" width="5" height="37" fill="#e8485c"/>
<rect x="640" y="172" width="1" height="29" fill="#e8485c"/>
<rect x="638" y="188" width="5" height="7" fill="#e8485c"/>
<rect x="646" y="148" width="1" height="50" fill="#e8485c"/>
<rect x="644" y="150" width="5" height="38" fill="#e8485c"/>
<rect x="652" y="134" width="1" height="77" fill="#4db283"/>
<rect x="650" y="150" width="5" height="46" fill="#4db283"/>
<rect x="658" y="187" width="1" height="39" fill="#4db283"/>
<rect x="656" y="196" width="5" height="7" fill="#4db283"/>
<rect x="664" y="163" width="1" height="40" fill="#e8485c"/>
<rect x="662" y="173" width="5" height="30" fill="#e8485c"/>
<rect x="670" y="166" width="1" height="20" fill="#4db283"/>
<rect x="668" y="171" width="5" height="3" fill="#4db283"/>
<rect x="676" y="179" width="1" height="43" fill="#4db283"/>
<rect x="674" y="180" width="5" height="42" fill="#4db283"/>
<rect x="682" y="222" width="1" height="29" fill="#4db283"/>
<rect x="680" y="228" width="5" height="6" fill="#4db283"/>
<rect x="688" y="229" width="1" height="17" fill="#4db283"/>
<rect x="686" y="235" width="5" height="9" fill="#4db283"/>
</g>
<polyline points="94.5,131.2 100.5,131.9 113.0,138.0 119.0,142.0 129.0,146.0 138.0,147.0 150.5,147.5 156.8,149.0 166.8,149.4 175.5,146.0 185.5,142.0 194.0,139.7 201.2,138.1 208.8,136.9 215.0,134.0 221.2,130.6 228.8,122.5 234.0,116.5 240.0,110.0 247.5,103.1 252.5,99.4 260.0,97.2 267.5,93.8 275.0,90.0 280.0,87.2 292.0,85.4 299.5,84.4 307.0,84.4 317.0,88.0 329.5,93.0 339.5,97.5 348.0,104.4 357.0,111.2 367.0,118.8 379.5,131.0 394.0,143.0 400.2,147.5 407.8,148.8 417.8,153.8 429.0,157.5 441.5,163.0 444.0,164.4 454.0,171.2 460.2,172.5 472.5,171.0 477.5,173.0 497.5,174.0 507.5,178.8 516.2,186.2 525.0,196.2 535.0,209.4 538.8,213.8 548.8,221.9 557.5,225.6 565.0,227.5 577.5,231.9 586.2,236.2 596.2,241.2 605.0,248.8 616.2,255.0 626.2,254.8 637.5,249.4 648.8,238.8 660.0,230.6 670.0,224.4 675.0,221.9 680.0,222.8 688.5,223.0" fill="none" stroke="#3a8df2" stroke-width="1" stroke-linejoin="round" shape-rendering="crispEdges"/>
<polyline points="94.5,92.0 105.5,95.0 125.5,101.2 144.0,107.5 163.0,114.4 176.0,117.5 182.5,119.4 193.8,120.5 205.0,122.0 218.0,123.5 240.0,123.6 262.5,123.5 270.0,122.3 277.5,120.6 287.0,118.6 296.0,117.0 310.8,116.9 325.8,117.5 342.0,120.2 354.5,121.2 367.0,120.0 379.5,123.0 394.0,126.5 401.5,126.2 407.8,123.8 419.0,121.9 430.2,121.2 444.0,124.4 462.8,128.0 481.5,132.5 492.0,134.5 500.0,138.0 508.0,142.0 517.5,147.5 527.0,154.5 537.5,162.5 546.0,167.5 555.0,172.5 566.0,178.8 580.0,187.5 597.5,195.2 606.0,199.2 615.0,203.1 624.0,206.6 633.8,209.2 652.5,209.4 659.0,210.5 665.0,211.8 686.2,212.4 688.5,212.5" fill="none" stroke="#3fbb85" stroke-width="1" stroke-linejoin="round" shape-rendering="crispEdges"/>
<polyline points="94.5,122.5 119.0,121.9 140.0,120.3 150.0,120.6 160.0,120.1 169.4,118.9 181.2,117.5 190.0,116.4 200.0,114.6 215.0,112.5 221.2,111.0 240.0,108.8 265.0,105.6 292.0,103.5 310.8,102.5 329.5,103.5 348.0,103.8 367.0,104.4 379.5,106.0 394.0,109.4 415.2,110.0 427.8,111.9 444.0,116.2 462.8,121.2 481.5,125.6 500.0,130.6 530.0,140.0 566.0,150.6 596.0,156.2 608.5,159.0 627.2,162.8 646.0,165.0 664.8,166.5 673.5,166.5 688.5,169.6" fill="none" stroke="#2fa8e2" stroke-width="1" stroke-linejoin="round" shape-rendering="crispEdges"/>
<polyline points="94.5,114.4 113.0,115.6 131.8,117.2 150.5,118.5 169.0,119.4 190.0,121.1 215.0,123.8 240.0,125.6 260.0,128.1 272.5,129.4 296.0,129.5 317.0,131.2 342.0,133.8 367.0,136.9 394.0,139.4 412.8,140.2 431.5,140.2 456.5,141.9 467.8,142.5 474.0,141.2 497.5,142.5 535.0,145.6 566.0,146.2 596.0,146.2 608.5,147.2 646.0,147.2 666.0,147.2 668.5,146.0 686.0,146.2 688.5,147.5" fill="none" stroke="#f58a3a" stroke-width="1" stroke-linejoin="round" shape-rendering="crispEdges"/>
<g fill="#000" shape-rendering="crispEdges"><rect x="248" y="52" width="7" height="1"/><rect x="250" y="50" width="1" height="4"/></g>
<g fill="#000" shape-rendering="crispEdges"><rect x="110" y="214" width="7" height="1"/><rect x="112" y="212" width="1" height="4"/></g>
<g fill="#000" shape-rendering="crispEdges"><rect x="650" y="134" width="7" height="1"/><rect x="652" y="132" width="1" height="4"/></g>
<g fill="#000" shape-rendering="crispEdges"><rect x="530" y="310" width="7" height="1"/><rect x="532" y="308" width="1" height="4"/></g>
<text x="255" y="48.8" font-family="Liberation Sans" font-size="12" fill="#ea4a5f" text-anchor="start" font-weight="bold" textLength="30.5" lengthAdjust="spacingAndGlyphs">84.52</text>
<text x="657.5" y="131.3" font-family="Liberation Sans" font-size="12" fill="#ea4a5f" text-anchor="start" font-weight="bold" textLength="30.3" lengthAdjust="spacingAndGlyphs">78.46</text>
<text x="117.5" y="225.8" font-family="Liberation Sans" font-size="12" fill="#45b784" text-anchor="start" font-weight="bold" textLength="30" lengthAdjust="spacingAndGlyphs">72.48</text>
<text x="537.5" y="321.6" font-family="Liberation Sans" font-size="12" fill="#45b784" text-anchor="start" font-weight="bold" textLength="30" lengthAdjust="spacingAndGlyphs">65.27</text>
<line x1="90.5" y1="36.4" x2="778" y2="119.4" stroke="#4a0e50" stroke-width="1" shape-rendering="crispEdges"/>
<line x1="186" y1="22.808000000000007" x2="778" y2="274.112" stroke="#0808f6" stroke-width="1" stroke-dasharray="19.58 6.53" shape-rendering="crispEdges"/>
<line x1="90" y1="91.736" x2="660" y2="335.696" stroke="#0808f6" stroke-width="1" stroke-dasharray="19.58 6.53" shape-rendering="crispEdges"/>
<line x1="90" y1="203" x2="400" y2="335.68" stroke="#0808f6" stroke-width="1" stroke-dasharray="19.58 6.53" shape-rendering="crispEdges"/>
<line x1="250.5" y1="53.8" x2="778" y2="257" stroke="#7a0c44" stroke-width="1" shape-rendering="crispEdges"/>
<line x1="118" y1="213.5" x2="778" y2="213.5" stroke="#f20000" stroke-width="1" shape-rendering="crispEdges"/>
<line x1="376" y1="226.5" x2="778" y2="226.5" stroke="#f20000" stroke-width="1" shape-rendering="crispEdges"/>
<line x1="533" y1="310.5" x2="778" y2="310.5" stroke="#f20000" stroke-width="1" shape-rendering="crispEdges"/>
<line x1="91" y1="244.5" x2="778" y2="244.5" stroke="#0a7cff" stroke-width="1" stroke-dasharray="3 3" shape-rendering="crispEdges"/>
</g>
<rect x="778.5" y="245" width="68.5" height="16.5" fill="#fff" stroke="#ff7f00" stroke-width="1.2"/>
<text x="781.7" y="256.9" font-family="Liberation Sans" font-size="12" fill="#ff7f00" text-anchor="start" font-weight="normal" textLength="29.5" lengthAdjust="spacingAndGlyphs">70.25</text>
<path d="M842.3 236.6 L845 239.4 L839.6 239.4Z M842.3 240.2 L846.2 244.4 L838.4 244.4Z" fill="#ff7f00"/>
<clipPath id="ck"><rect x="91" y="345" width="687" height="95.5"/></clipPath><g clip-path="url(#ck)">
<polyline points="94.5,392.5 100.5,417.4 106.5,434.0 112.5,438.6 118.5,431.4 124.5,418.0 130.5,410.5 136.5,385.4 142.5,369.1 148.5,360.6 154.5,361.5 160.5,362.3 166.5,354.3 172.5,351.7 178.5,356.6 184.5,356.4 190.5,369.9 196.5,363.5 202.5,373.4 208.5,376.6 214.5,368.9 220.5,381.2 226.5,373.1 232.5,380.3 238.5,378.0 244.5,370.8 250.5,375.0 256.5,392.3 262.5,409.6 268.5,411.5 274.5,404.3 280.5,409.8 286.5,415.2 292.5,427.3 298.5,401.1 304.5,416.8 310.5,432.0 316.5,433.3 322.5,430.9 328.5,428.3 334.5,416.8 340.5,425.6 346.5,428.4 352.5,428.6 358.5,400.5 364.5,391.3 370.5,404.8 376.5,405.6 382.5,413.7 388.5,399.2 394.5,387.1 400.5,375.0 406.5,359.1 412.5,358.8 418.5,369.4 424.5,371.0 430.5,391.0 436.5,415.2 442.5,431.1 448.5,439.3 454.5,435.1 460.5,418.2 466.5,390.6 472.5,385.2 478.5,390.2 484.5,378.5 490.5,394.9 496.5,400.4 502.5,424.1 508.5,433.4 514.5,436.3 520.5,434.8 526.5,429.1 532.5,429.3 538.5,423.7 544.5,407.5 550.5,399.0 556.5,373.5 562.5,359.9 568.5,370.8 574.5,361.9 580.5,357.6 586.5,361.5 592.5,363.4 598.5,392.4 604.5,421.0 610.5,422.0 616.5,424.6 622.5,398.2 628.5,382.3 634.5,364.3 640.5,360.2 646.5,353.1 652.5,370.9 658.5,383.0 664.5,379.0 670.5,377.3 676.5,405.2 682.5,423.5 688.5,436.3" fill="none" stroke="#2fa8e2" stroke-width="1" stroke-linejoin="round" shape-rendering="crispEdges"/>
<polyline points="94.5,392.5 100.5,396.1 106.5,401.5 112.5,406.8 118.5,410.3 124.5,411.4 130.5,411.3 136.5,407.6 142.5,402.1 148.5,396.2 154.5,391.2 160.5,387.1 166.5,382.4 172.5,378.0 178.5,375.0 184.5,372.3 190.5,372.0 196.5,370.8 202.5,371.1 208.5,371.9 214.5,371.5 220.5,372.9 226.5,372.9 232.5,374.0 238.5,374.5 244.5,374.0 250.5,374.2 256.5,376.8 262.5,381.4 268.5,385.7 274.5,388.4 280.5,391.4 286.5,394.8 292.5,399.5 298.5,399.7 304.5,402.2 310.5,406.4 316.5,410.3 322.5,413.2 328.5,415.4 334.5,415.6 340.5,417.0 346.5,418.6 352.5,420.1 358.5,417.3 364.5,413.6 370.5,412.3 376.5,411.4 382.5,411.7 388.5,409.9 394.5,406.6 400.5,402.1 406.5,396.0 412.5,390.7 418.5,387.6 424.5,385.2 430.5,386.1 436.5,390.2 442.5,396.1 448.5,402.2 454.5,406.9 460.5,408.5 466.5,406.0 472.5,403.0 478.5,401.2 484.5,397.9 490.5,397.5 496.5,397.9 502.5,401.6 508.5,406.2 514.5,410.5 520.5,414.0 526.5,416.1 532.5,418.0 538.5,418.8 544.5,417.2 550.5,414.6 556.5,408.7 562.5,401.8 568.5,397.3 574.5,392.3 580.5,387.3 586.5,383.6 592.5,380.8 598.5,382.4 604.5,387.9 610.5,392.8 616.5,397.3 622.5,397.5 628.5,395.3 634.5,390.9 640.5,386.5 646.5,381.7 652.5,380.2 658.5,380.6 664.5,380.4 670.5,379.9 676.5,383.5 682.5,389.2 688.5,396.0" fill="none" stroke="#3fbb85" stroke-width="1" stroke-linejoin="round" shape-rendering="crispEdges"/>
<polyline points="94.5,392.5 100.5,403.2 106.5,412.4 112.5,417.4 118.5,417.3 124.5,413.6 130.5,411.0 136.5,400.2 142.5,391.1 148.5,384.3 154.5,381.3 160.5,378.8 166.5,373.1 172.5,369.2 178.5,368.8 184.5,367.0 190.5,371.3 196.5,368.3 202.5,371.9 208.5,373.5 214.5,370.6 220.5,375.7 226.5,373.0 232.5,376.1 238.5,375.7 244.5,373.0 250.5,374.4 256.5,381.9 262.5,390.8 268.5,394.3 274.5,393.7 280.5,397.6 286.5,401.6 292.5,408.8 298.5,400.2 304.5,407.1 310.5,414.9 316.5,418.0 322.5,419.1 328.5,419.7 334.5,416.0 340.5,419.9 346.5,421.9 352.5,422.9 358.5,411.7 364.5,406.1 370.5,409.8 376.5,409.4 382.5,412.3 388.5,406.3 394.5,400.1 400.5,393.1 406.5,383.7 412.5,380.0 418.5,381.5 424.5,380.5 430.5,387.7 436.5,398.5 442.5,407.8 448.5,414.6 454.5,416.3 460.5,411.8 466.5,400.8 472.5,397.1 478.5,397.5 484.5,391.4 490.5,396.6 496.5,398.7 502.5,409.1 508.5,415.3 514.5,419.1 520.5,420.9 526.5,420.4 532.5,421.7 538.5,420.5 544.5,414.0 550.5,409.4 556.5,397.0 562.5,387.8 568.5,388.5 574.5,382.2 580.5,377.4 586.5,376.3 592.5,375.0 598.5,385.7 604.5,398.9 610.5,402.5 616.5,406.4 622.5,397.7 628.5,391.0 634.5,382.0 640.5,377.7 646.5,372.2 652.5,377.1 658.5,381.4 664.5,379.9 670.5,379.0 676.5,390.7 682.5,400.7 688.5,409.4" fill="none" stroke="#3a8df2" stroke-width="1" stroke-linejoin="round" shape-rendering="crispEdges"/>
</g>
<text x="92.5" y="344" font-family="Liberation Sans" font-size="12" fill="#1a1a24" text-anchor="start" font-weight="normal" textLength="56.3" lengthAdjust="spacingAndGlyphs">KDJ(9,3,3)</text>
<text x="153.8" y="344" font-family="Liberation Sans" font-size="12" fill="#4a94f5" text-anchor="start" font-weight="normal" textLength="39.8" lengthAdjust="spacingAndGlyphs">K:30.61</text>
<text x="203.8" y="344" font-family="Liberation Sans" font-size="12" fill="#3fc48a" text-anchor="start" font-weight="normal" textLength="41.7" lengthAdjust="spacingAndGlyphs">D:49.57</text>
<text x="254.5" y="344" font-family="Liberation Sans" font-size="12" fill="#3aa9ea" text-anchor="start" font-weight="normal" textLength="36.8" lengthAdjust="spacingAndGlyphs">J:-7.30</text>
<clipPath id="cr"><rect x="91" y="455" width="687" height="75.5"/></clipPath><g clip-path="url(#cr)">
<polyline points="94.5,503.8 100.5,505.2 106.5,511.1 112.5,512.9 118.5,509.1 124.5,505.7 130.5,506.3 136.5,499.6 142.5,499.6 148.5,499.3 154.5,500.2 160.5,499.9 166.5,495.5 172.5,493.8 178.5,494.1 184.5,492.6 190.5,494.4 196.5,491.9 202.5,494.5 208.5,494.1 214.5,492.1 220.5,492.9 226.5,488.8 232.5,489.4 238.5,488.4 244.5,487.5 250.5,489.4 256.5,492.9 262.5,494.2 268.5,492.8 274.5,491.6 280.5,493.7 286.5,494.4 292.5,497.9 298.5,491.7 304.5,498.0 310.5,503.1 316.5,503.9 322.5,505.5 328.5,505.3 334.5,503.0 340.5,507.1 346.5,508.0 352.5,509.4 358.5,500.4 364.5,503.9 370.5,508.8 376.5,509.2 382.5,510.9 388.5,504.8 394.5,503.3 400.5,501.2 406.5,495.8 412.5,497.7 418.5,500.5 424.5,499.0 430.5,503.5 436.5,506.3 442.5,507.5 448.5,509.2 454.5,506.9 460.5,502.4 466.5,498.4 472.5,500.9 478.5,503.1 484.5,500.0 490.5,503.8 496.5,503.2 502.5,508.7 508.5,509.9 514.5,509.9 520.5,511.4 526.5,510.0 532.5,513.2 538.5,511.0 544.5,507.2 550.5,507.0 556.5,504.5 562.5,503.3 568.5,506.3 574.5,502.5 580.5,502.2 586.5,503.0 592.5,501.4 598.5,504.3 604.5,508.1 610.5,505.5 616.5,506.1 622.5,501.2 628.5,500.6 634.5,495.7 640.5,494.4 646.5,490.0 652.5,496.1 658.5,497.0 664.5,493.5 670.5,493.6 676.5,499.6 682.5,501.0 688.5,502.2" fill="none" stroke="#2fa8e2" stroke-width="1" stroke-linejoin="round" shape-rendering="crispEdges"/>
<polyline points="94.5,506.0 100.5,508.6 106.5,518.8 112.5,521.6 118.5,513.6 124.5,507.0 130.5,508.0 136.5,495.6 142.5,495.6 148.5,495.0 154.5,497.1 160.5,496.4 166.5,488.2 172.5,485.1 178.5,486.0 184.5,483.4 190.5,487.8 196.5,483.2 202.5,489.3 208.5,488.6 214.5,484.7 220.5,486.8 226.5,479.2 232.5,480.8 238.5,479.1 244.5,477.4 250.5,482.3 256.5,490.9 262.5,493.9 268.5,490.6 274.5,488.2 280.5,493.1 286.5,494.7 292.5,502.5 298.5,489.0 304.5,501.5 310.5,510.1 316.5,511.5 322.5,514.0 328.5,513.6 334.5,508.4 340.5,515.4 346.5,516.9 352.5,519.0 358.5,500.4 364.5,506.6 370.5,514.6 376.5,515.3 382.5,517.8 388.5,506.1 394.5,503.3 400.5,499.6 406.5,490.4 412.5,494.1 418.5,499.4 424.5,496.6 430.5,505.0 436.5,509.8 442.5,511.8 448.5,514.7 454.5,510.0 460.5,501.5 466.5,494.4 472.5,499.2 478.5,503.3 484.5,497.7 490.5,504.8 496.5,503.5 502.5,513.0 508.5,515.1 514.5,514.9 520.5,517.5 526.5,514.5 532.5,519.9 538.5,515.3 544.5,507.8 550.5,507.4 556.5,502.4 562.5,500.0 568.5,506.4 574.5,498.9 580.5,498.4 586.5,500.2 592.5,497.0 598.5,503.5 604.5,511.0 610.5,505.8 616.5,506.9 622.5,497.1 628.5,496.0 634.5,487.3 640.5,485.2 646.5,478.3 652.5,491.5 658.5,493.3 664.5,487.4 670.5,487.6 676.5,499.6 682.5,502.0 688.5,504.2" fill="none" stroke="#3fbb85" stroke-width="1" stroke-linejoin="round" shape-rendering="crispEdges"/>
<polyline points="94.5,507.4 100.5,512.4 106.5,528.0 112.5,531.5 118.5,515.9 124.5,503.8 130.5,505.8 136.5,485.1 142.5,485.1 148.5,484.1 154.5,489.6 160.5,488.2 166.5,473.8 172.5,469.4 178.5,472.0 184.5,467.9 190.5,480.2 196.5,471.9 202.5,487.1 208.5,485.7 214.5,477.4 220.5,482.8 226.5,468.9 232.5,472.9 238.5,469.9 244.5,466.9 250.5,479.8 256.5,498.8 262.5,504.5 268.5,495.8 274.5,489.7 280.5,500.3 286.5,503.7 292.5,517.9 298.5,487.2 304.5,508.5 310.5,520.4 316.5,522.1 322.5,525.5 328.5,524.7 334.5,512.6 340.5,524.2 346.5,526.4 352.5,529.5 358.5,493.5 364.5,505.4 370.5,518.7 376.5,519.7 382.5,523.7 388.5,502.0 394.5,497.2 400.5,490.9 406.5,477.1 412.5,485.5 418.5,496.7 424.5,491.6 430.5,508.3 436.5,516.4 442.5,519.6 448.5,524.1 454.5,513.6 460.5,496.5 466.5,484.5 472.5,495.0 478.5,503.5 484.5,492.7 490.5,506.9 496.5,504.4 502.5,520.9 508.5,523.9 514.5,523.6 520.5,527.7 526.5,520.3 532.5,529.3 538.5,518.8 544.5,503.1 550.5,502.4 556.5,492.4 562.5,487.9 568.5,504.4 574.5,490.1 580.5,489.1 586.5,493.9 592.5,487.4 598.5,503.8 604.5,518.3 610.5,507.0 616.5,509.2 622.5,489.6 628.5,487.7 634.5,473.9 640.5,471.0 646.5,462.7 652.5,489.7 658.5,493.1 664.5,482.6 670.5,483.0 676.5,505.8 682.5,509.9 688.5,513.6" fill="none" stroke="#3a8df2" stroke-width="1" stroke-linejoin="round" shape-rendering="crispEdges"/>
</g>
<text x="92.5" y="454.6" font-family="Liberation Sans" font-size="12" fill="#1a1a24" text-anchor="start" font-weight="normal" textLength="66.3" lengthAdjust="spacingAndGlyphs">RSI(6,12,24)</text>
<text x="165" y="454.6" font-family="Liberation Sans" font-size="12" fill="#4a94f5" text-anchor="start" font-weight="normal" textLength="58.8" lengthAdjust="spacingAndGlyphs">RSI1:35.58</text>
<text x="232.5" y="454.6" font-family="Liberation Sans" font-size="12" fill="#3fc48a" text-anchor="start" font-weight="normal" textLength="58.8" lengthAdjust="spacingAndGlyphs">RSI2:44.13</text>
<text x="300.8" y="454.6" font-family="Liberation Sans" font-size="12" fill="#3aa9ea" text-anchor="start" font-weight="normal" textLength="58.8" lengthAdjust="spacingAndGlyphs">RSI3:46.04</text>
<g><circle cx="29" cy="448" r="3.6" fill="#fff" stroke="#111" stroke-width="1.2"/><circle cx="29" cy="448" r="1.9" fill="#f00"/><g fill="#f00" shape-rendering="crispEdges"><rect x="28" y="441" width="1" height="2"/><rect x="28" y="453" width="1" height="2"/><rect x="22" y="447" width="2" height="1"/><rect x="34" y="447" width="2" height="1"/></g><g stroke="#f00" stroke-width="1.4"><line x1="23.2" y1="442.2" x2="25" y2="444"/><line x1="34.8" y1="442.2" x2="33" y2="444"/><line x1="23.2" y1="453.8" x2="25" y2="452"/><line x1="34.8" y1="453.8" x2="33" y2="452"/></g></g>
<line x1="106.5" y1="531" x2="106.5" y2="536" stroke="#dde3ed" stroke-width="1" shape-rendering="crispEdges"/>
<text x="108.2" y="543.6" font-family="Liberation Sans" font-size="12" fill="#22222c" text-anchor="start" font-weight="bold" textLength="44.5" lengthAdjust="spacingAndGlyphs">2024/06</text>
<line x1="226.5" y1="531" x2="226.5" y2="536" stroke="#dde3ed" stroke-width="1" shape-rendering="crispEdges"/>
<text x="228.2" y="543.6" font-family="Liberation Sans" font-size="12" fill="#22222c" text-anchor="start" font-weight="bold" textLength="44.5" lengthAdjust="spacingAndGlyphs">2024/07</text>
<line x1="365.5" y1="531" x2="365.5" y2="536" stroke="#dde3ed" stroke-width="1" shape-rendering="crispEdges"/>
<text x="367.2" y="543.6" font-family="Liberation Sans" font-size="12" fill="#22222c" text-anchor="start" font-weight="bold" textLength="44.5" lengthAdjust="spacingAndGlyphs">2024/08</text>
<line x1="496.5" y1="531" x2="496.5" y2="536" stroke="#dde3ed" stroke-width="1" shape-rendering="crispEdges"/>
<text x="498.2" y="543.6" font-family="Liberation Sans" font-size="12" fill="#22222c" text-anchor="start" font-weight="bold" textLength="44.5" lengthAdjust="spacingAndGlyphs">2024/09</text>
<line x1="622.5" y1="531" x2="622.5" y2="536" stroke="#dde3ed" stroke-width="1" shape-rendering="crispEdges"/>
<text x="624.2" y="543.6" font-family="Liberation Sans" font-size="12" fill="#22222c" text-anchor="start" font-weight="bold" textLength="44.5" lengthAdjust="spacingAndGlyphs">2024/10</text>
<rect x="20.5" y="531.5" width="69" height="19" fill="#fff" stroke="#ccd3de" stroke-width="1" shape-rendering="crispEdges"/>
<text x="32.5" y="546.8" font-family="'Liberation Sans','Noto Sans CJK SC',sans-serif" font-size="13.2" font-weight="bold" fill="#ff7a00" textLength="26.3" lengthAdjust="spacing">日线</text>
<path d="M68.7 538.1 L73.1 545.9 L64.3 545.9Z" fill="#ff7a00"/>
<rect x="20" y="551" width="828" height="16" fill="#fbfbfc" shape-rendering="crispEdges"/>
<rect x="1" y="214" width="18" height="352" fill="#fcfcfd" shape-rendering="crispEdges"/>
<line x1="0" y1="566.5" x2="20" y2="566.5" stroke="#c3cad4" stroke-width="1" shape-rendering="crispEdges"/>
<line x1="20" y1="551.5" x2="848" y2="551.5" stroke="#bfc6d0" stroke-width="1" shape-rendering="crispEdges"/>
<rect x="20" y="551" width="39" height="15" fill="#ff6600" shape-rendering="crispEdges"/>
<text x="27.9" y="563.9" font-family="'Liberation Sans','Noto Sans CJK SC',sans-serif" font-size="12.5" fill="#ffffff" textLength="24.2" lengthAdjust="spacing">指标</text>
<text x="68" y="563.9" font-family="'Liberation Sans','Noto Sans CJK SC',sans-serif" font-size="12.3" fill="#111111" textLength="24" lengthAdjust="spacing">模板</text>
<text x="108" y="563.0" font-family="Liberation Serif" font-size="11.5" fill="#ff7a00" text-anchor="start" font-weight="normal" textLength="18" lengthAdjust="spacingAndGlyphs">VIP</text>
<text x="126.2" y="563.9" font-family="'Liberation Sans','Noto Sans CJK SC',sans-serif" font-size="12.3" fill="#ff7a00" textLength="24" lengthAdjust="spacing">指标</text>
<line x1="59.5" y1="552" x2="59.5" y2="567" stroke="#cdd3dc" stroke-width="1" shape-rendering="crispEdges"/>
<line x1="99.5" y1="552" x2="99.5" y2="567" stroke="#cdd3dc" stroke-width="1" shape-rendering="crispEdges"/>
<text x="165.7" y="563.0" font-family="Liberation Serif" font-size="11.5" fill="#1c1c22" text-anchor="start" font-weight="normal" textLength="11.5" lengthAdjust="spacingAndGlyphs">MA</text>
<line x1="157.5" y1="552" x2="157.5" y2="567" stroke="#cdd3dc" stroke-width="1" shape-rendering="crispEdges"/>
<text x="193.7" y="563.0" font-family="Liberation Serif" font-size="11.5" fill="#1c1c22" text-anchor="start" font-weight="normal" textLength="23.5" lengthAdjust="spacingAndGlyphs">MACD</text>
<line x1="185.5" y1="552" x2="185.5" y2="567" stroke="#cdd3dc" stroke-width="1" shape-rendering="crispEdges"/>
<text x="233.7" y="563.0" font-family="Liberation Serif" font-size="11.5" fill="#1c1c22" text-anchor="start" font-weight="normal" textLength="23.5" lengthAdjust="spacingAndGlyphs">BOLL</text>
<line x1="225.5" y1="552" x2="225.5" y2="567" stroke="#cdd3dc" stroke-width="1" shape-rendering="crispEdges"/>
<text x="273.7" y="563.0" font-family="Liberation Serif" font-size="11.5" fill="#1c1c22" text-anchor="start" font-weight="normal" textLength="17.5" lengthAdjust="spacingAndGlyphs">VOL</text>
<line x1="265.5" y1="552" x2="265.5" y2="567" stroke="#cdd3dc" stroke-width="1" shape-rendering="crispEdges"/>
<text x="307.7" y="563.0" font-family="Liberation Serif" font-size="11.5" fill="#1c1c22" text-anchor="start" font-weight="normal" textLength="23.5" lengthAdjust="spacingAndGlyphs">BIAS</text>
<line x1="299.5" y1="552" x2="299.5" y2="567" stroke="#cdd3dc" stroke-width="1" shape-rendering="crispEdges"/>
<text x="347.7" y="563.0" font-family="Liberation Serif" font-size="11.5" fill="#1c1c22" text-anchor="start" font-weight="normal" textLength="17.5" lengthAdjust="spacingAndGlyphs">CCI</text>
<line x1="339.5" y1="552" x2="339.5" y2="567" stroke="#cdd3dc" stroke-width="1" shape-rendering="crispEdges"/>
<text x="381.7" y="563.0" font-family="Liberation Serif" font-size="11.5" fill="#1c1c22" text-anchor="start" font-weight="normal" textLength="17.5" lengthAdjust="spacingAndGlyphs">KDJ</text>
<line x1="373.5" y1="552" x2="373.5" y2="567" stroke="#cdd3dc" stroke-width="1" shape-rendering="crispEdges"/>
<text x="416.4" y="563.0" font-family="Liberation Serif" font-size="11.5" fill="#1c1c22" text-anchor="start" font-weight="normal" textLength="17.5" lengthAdjust="spacingAndGlyphs">LW&amp;</text>
<line x1="407.5" y1="552" x2="407.5" y2="567" stroke="#cdd3dc" stroke-width="1" shape-rendering="crispEdges"/>
<text x="455.7" y="563.0" font-family="Liberation Serif" font-size="11.5" fill="#1c1c22" text-anchor="start" font-weight="normal" textLength="17.5" lengthAdjust="spacingAndGlyphs">RSI</text>
<line x1="447.5" y1="552" x2="447.5" y2="567" stroke="#cdd3dc" stroke-width="1" shape-rendering="crispEdges"/>
<text x="489.7" y="563.0" font-family="Liberation Serif" font-size="11.5" fill="#1c1c22" text-anchor="start" font-weight="normal" textLength="11.5" lengthAdjust="spacingAndGlyphs">CR</text>
<line x1="481.5" y1="552" x2="481.5" y2="567" stroke="#cdd3dc" stroke-width="1" shape-rendering="crispEdges"/>
<text x="517.7" y="563.0" font-family="Liberation Serif" font-size="11.5" fill="#1c1c22" text-anchor="start" font-weight="normal" textLength="17.5" lengthAdjust="spacingAndGlyphs">PSY</text>
<line x1="509.5" y1="552" x2="509.5" y2="567" stroke="#cdd3dc" stroke-width="1" shape-rendering="crispEdges"/>
<line x1="543.5" y1="552" x2="543.5" y2="567" stroke="#cdd3dc" stroke-width="1" shape-rendering="crispEdges"/>
<line x1="583.5" y1="552" x2="583.5" y2="567" stroke="#cdd3dc" stroke-width="1" shape-rendering="crispEdges"/>
<text x="552.2" y="564" font-family="'Liberation Sans','Noto Sans CJK SC',sans-serif" font-size="12.3" fill="#111111" textLength="23.9" lengthAdjust="spacing">设置</text></svg>
</body></html>
